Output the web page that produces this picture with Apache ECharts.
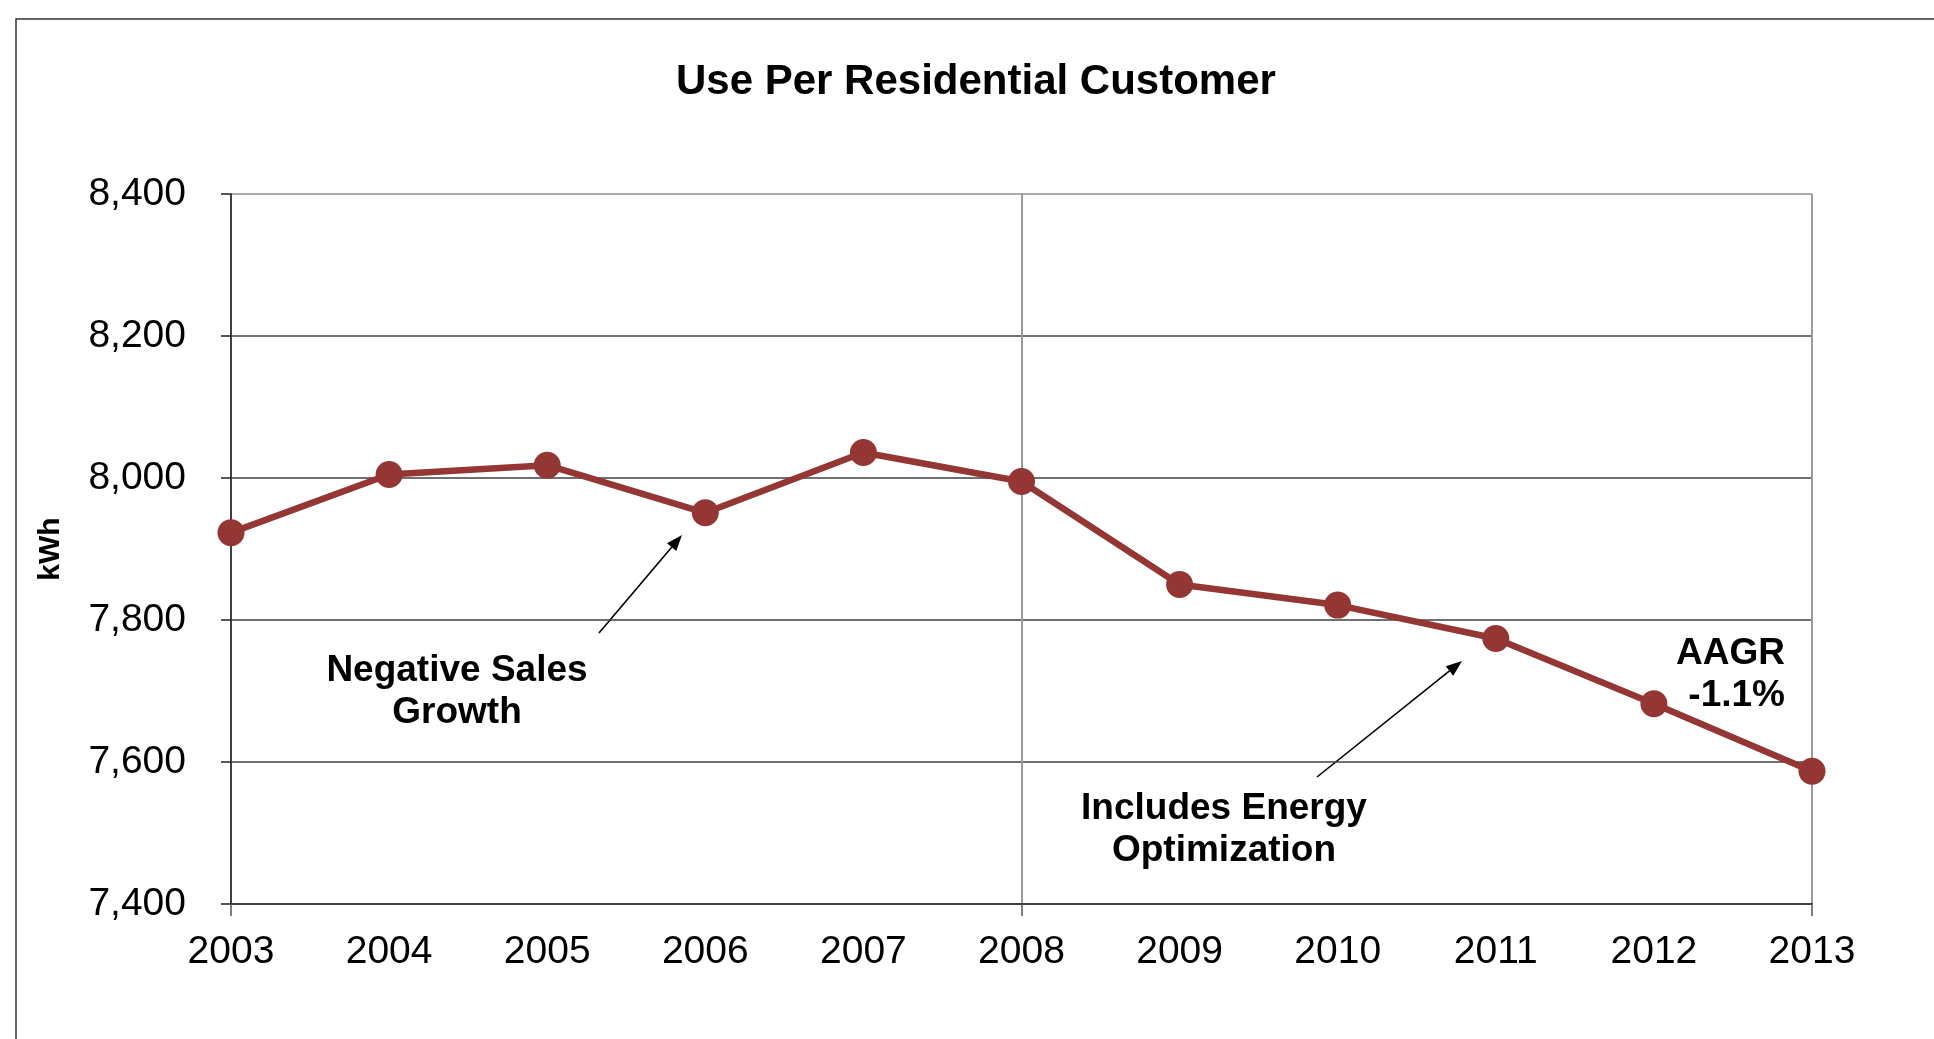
<!DOCTYPE html>
<html>
<head>
<meta charset="utf-8">
<title>Use Per Residential Customer</title>
<script src="https://cdn.jsdelivr.net/npm/echarts@6/dist/echarts.min.js"></script>
<style>
  html, body { margin: 0; padding: 0; background: #ffffff; }
  #chart { width: 1934px; height: 1039px; }
</style>
</head>
<body>
<div id="chart"></div>
<script>
// Annual residential use per customer, kWh
const years = ['2003', '2004', '2005', '2006', '2007', '2008', '2009', '2010', '2011', '2012', '2013'];
const usePerCustomer = [7923, 8005, 8018, 7951, 8036, 7995, 7850, 7821, 7774, 7682, 7587];
const yTicks = { min: 7400, max: 8400, step: 200 };

const FONT = '"Liberation Sans", Arial, Helvetica, sans-serif';
const LINE_RED = '#943634';

const chart = echarts.init(document.getElementById('chart'), null, { renderer: 'canvas' });

const boldText = (x, y, text, align) => ({
  type: 'text',
  x: x,
  y: y,
  silent: true,
  style: {
    text: text,
    fill: '#000',
    font: 'bold 37px ' + FONT,
    align: align,
    verticalAlign: 'top',
    lineHeight: 42
  }
});

const arrow = (x1, y1, x2, y2) => {
  const ang = Math.atan2(y2 - y1, x2 - x1);
  const len = 16, half = 6;
  const bx = x2 - len * Math.cos(ang), by = y2 - len * Math.sin(ang);
  const px = -Math.sin(ang) * half, py = Math.cos(ang) * half;
  return [
    { type: 'line', silent: true,
      shape: { x1: x1, y1: y1, x2: bx, y2: by },
      style: { stroke: '#000', lineWidth: 1.6 } },
    { type: 'polygon', silent: true,
      shape: { points: [[x2, y2], [bx + px, by + py], [bx - px, by - py]] },
      style: { fill: '#000' } }
  ];
};

chart.setOption({
  backgroundColor: '#ffffff',
  animation: false,
  title: {
    text: 'Use Per Residential Customer',
    left: 671,
    top: 56,
    textStyle: { fontFamily: FONT, fontWeight: 'bold', fontSize: 42, color: '#000' }
  },
  grid: { left: 231, right: 122, top: 194, bottom: 135, containLabel: false },
  xAxis: {
    type: 'category',
    data: years,
    boundaryGap: false,
    axisLine: { show: true, lineStyle: { color: '#404040', width: 2 } },
    axisTick: { show: true, interval: 4, length: 12, lineStyle: { color: '#555', width: 1.5 } },
    splitLine: { show: true, interval: 4, lineStyle: { color: '#9a9a9a', width: 2 } },
    axisLabel: { interval: 0, margin: 29, fontFamily: FONT, fontSize: 39, color: '#000' }
  },
  yAxis: {
    type: 'value',
    min: yTicks.min,
    max: yTicks.max,
    interval: yTicks.step,
    name: 'kWh',
    nameLocation: 'middle',
    nameGap: 165,
    nameRotate: 90,
    nameTextStyle: { fontFamily: FONT, fontWeight: 'bold', fontSize: 30, color: '#000' },
    axisLine: { show: true, lineStyle: { color: '#222', width: 1.5 } },
    axisTick: { show: true, length: 10, lineStyle: { color: '#222', width: 1.5 } },
    splitLine: {
      show: true,
      lineStyle: { color: ['#404040', '#404040', '#404040', '#404040', '#404040', '#8c8c8c'], width: 1.5 }
    },
    axisLabel: {
      margin: 45,
      fontFamily: FONT,
      fontSize: 39,
      color: '#000',
      padding: [6, 0, 0, 0],
      formatter: v => v.toLocaleString('en-US')
    }
  },
  series: [{
    type: 'line',
    data: usePerCustomer,
    symbol: 'circle',
    symbolSize: 27,
    lineStyle: { color: LINE_RED, width: 6.5 },
    itemStyle: { color: LINE_RED },
    z: 5
  }],
  graphic: [
    // outer frame of the chart area
    { type: 'rect', silent: true,
      shape: { x: 16, y: 19, width: 1960, height: 1060 },
      style: { fill: 'none', stroke: '#333', lineWidth: 1.5 } },
    boldText(457, 650, 'Negative Sales\nGrowth', 'center'),
    boldText(1224, 788, 'Includes Energy\nOptimization', 'center'),
    boldText(1785, 633, 'AAGR\n-1.1%', 'right'),
    ...arrow(599, 633, 682, 535),
    ...arrow(1317, 777, 1462, 661)
  ]
});
</script>
</body>
</html>
